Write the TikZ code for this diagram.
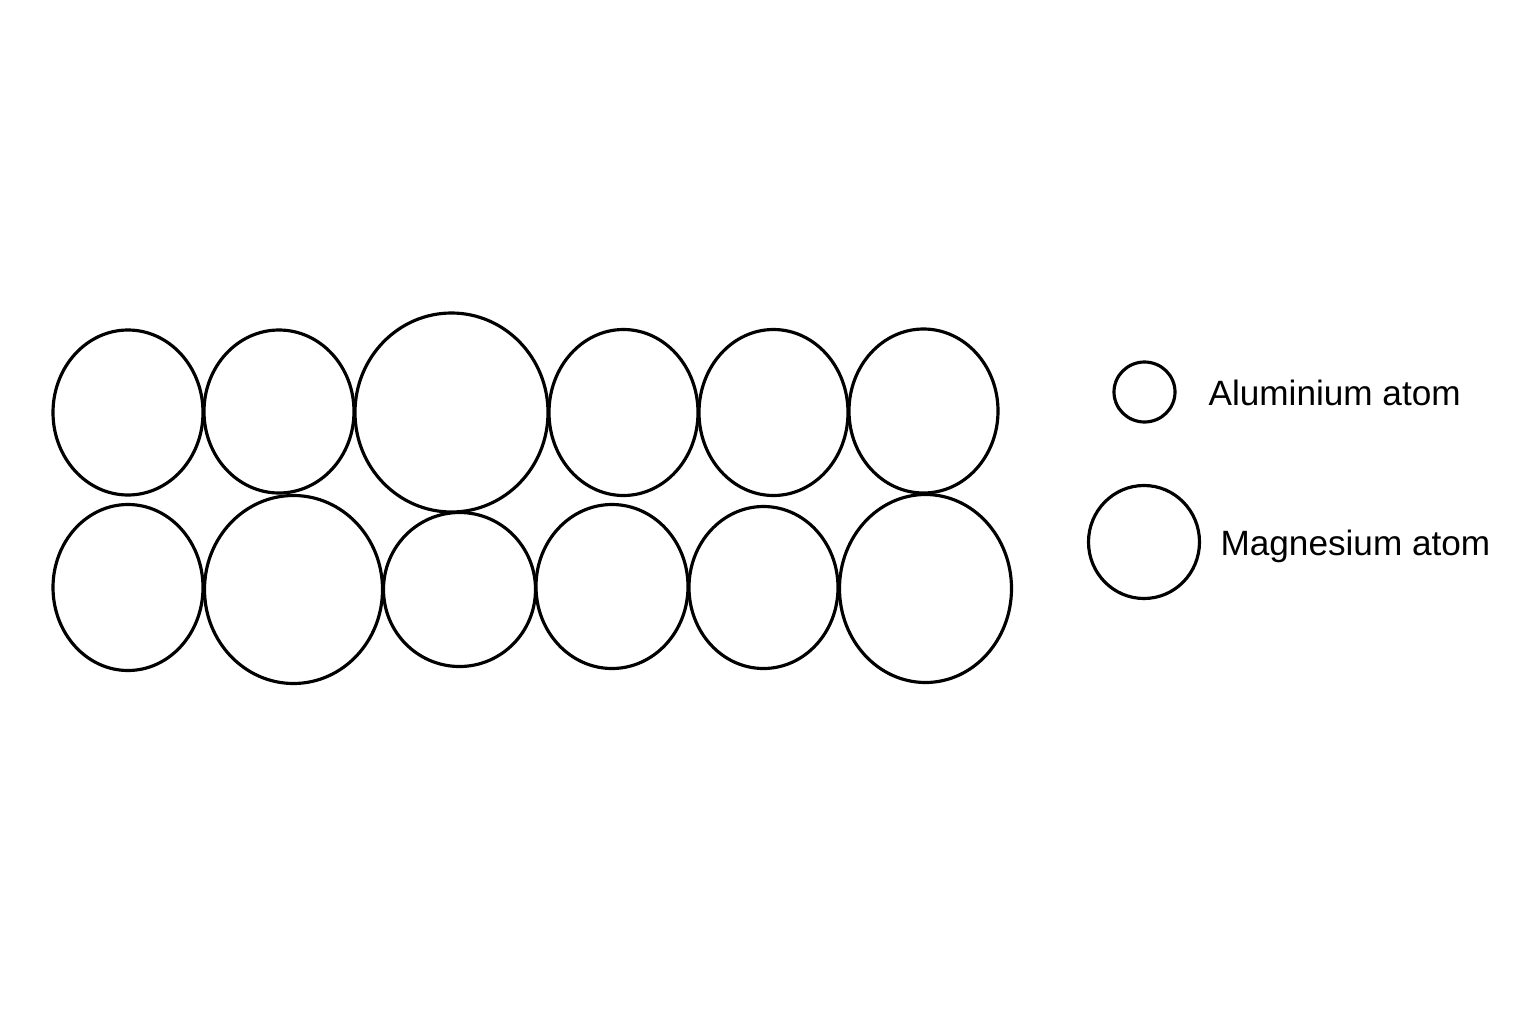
\documentclass[tikz,border=0pt]{standalone}
\usepackage{fontspec}
\setmainfont{Liberation Sans}

\begin{document}
\begin{tikzpicture}[x=0.01cm,y=-0.01cm,line width=0.9pt,
    legendtext/.style={anchor=base west,inner sep=0pt,font=\fontsize{10pt}{12pt}\selectfont}]
        \useasboundingbox (0,0) rectangle (1536,1024);

        % top row
        \draw (128,412.5) ellipse (75 and 82.5);
        \draw (279,411.5) ellipse (75 and 81.5);
        \draw (451.5,412.5) ellipse (96.5 and 99.5);
        \draw (623.5,412.5) ellipse (74.5 and 83);
        \draw (773.5,412.5) ellipse (74.5 and 83);
        \draw (923.5,411) ellipse (74.5 and 82);

        % bottom row
        \draw (128,587.5) ellipse (75 and 83);
        \draw (293.5,589.5) ellipse (89 and 94);
        \draw (459.5,589.5) ellipse (76 and 77);
        \draw (612,586.5) ellipse (76 and 82);
        \draw (763.5,587.5) ellipse (74.5 and 81);
        \draw (925.5,588.5) ellipse (86 and 94);

        % legend
        \draw (1144.5,392) ellipse (30.5 and 30);
        \draw (1144,542) ellipse (55.5 and 56.5);
        \node[legendtext] (al) at (1207,405) {Aluminium atom};
        \node[legendtext] (mg) at (1219,555) {Magnesium atom};
    \end{tikzpicture}
\end{document}
